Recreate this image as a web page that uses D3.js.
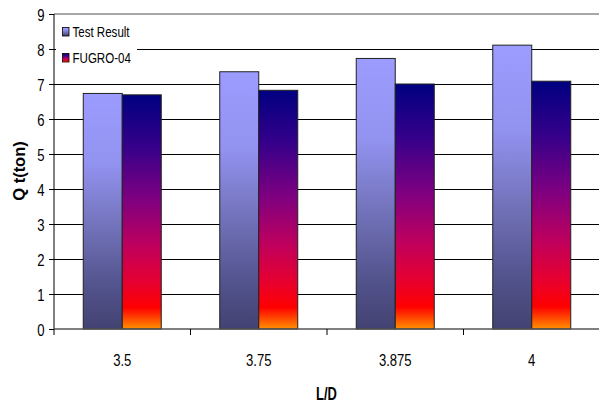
<!DOCTYPE html>
<html><head><meta charset="utf-8">
<script src="https://cdn.jsdelivr.net/npm/d3@7"></script>
<style>
html,body{margin:0;padding:0;background:#fff;}
svg{display:block;}
text{font-family:"Liberation Sans",Arial,sans-serif;fill:#000;}
</style></head>
<body>
<svg id="chart" width="599" height="403"></svg>
<script>
const categories = ["3.5", "3.75", "3.875", "4"];
const seriesNames = ["Test Result", "FUGRO-04"];
const testResult = [6.73, 7.35, 7.73, 8.11];
const fugro04 = [6.69, 6.82, 7.00, 7.08];
const yTicks = [0, 1, 2, 3, 4, 5, 6, 7, 8, 9];

(function () {
const svg = d3.select("#chart");
const pL = 54, pR = 600, pT = 14, pB = 329;
const sx = 0.77;

const x = d3.scaleBand().domain(categories).range([pL, pR]).paddingInner(0).paddingOuter(0);
const x1 = d3.scaleBand().domain(seriesNames).range([0, x.bandwidth()]).paddingInner(0).paddingOuter(0.75);
const y = d3.scaleLinear().domain([0, 9]).range([pB, pT]);

const defs = svg.append("defs");
function grad(id, stops) {
  const g = defs.append("linearGradient").attr("id", id).attr("x1", 0).attr("y1", 0).attr("x2", 0).attr("y2", 1);
  stops.forEach(s => g.append("stop").attr("offset", s[0]).attr("stop-color", s[1]));
}
grad("gTest", [[0, "#9c9cff"], [0.3, "#9292f0"], [0.55, "#7474bd"], [0.8, "#555590"], [1, "#424272"]]);
grad("gFugro", [[0, "#000080"], [0.22, "#35008a"], [0.45, "#800080"], [0.65, "#c0005c"], [0.8, "#e60030"], [0.91, "#ff0000"], [1, "#ff9000"]]);
const fills = {"Test Result": "url(#gTest)", "FUGRO-04": "url(#gFugro)"};

// gridlines
svg.append("g").selectAll("line").data(yTicks.filter(t => t > 0 && t < 9)).join("line")
  .attr("x1", pL).attr("x2", pR).attr("y1", d => y(d)).attr("y2", d => y(d))
  .attr("stroke", "#000").attr("stroke-width", 1).attr("shape-rendering", "crispEdges");
// top border
svg.append("line").attr("x1", pL).attr("x2", pR).attr("y1", y(9)).attr("y2", y(9))
  .attr("stroke", "#8a8a8a").attr("stroke-width", 1.5);

// bars
const groups = svg.append("g").selectAll("g").data(categories).join("g")
  .attr("transform", d => `translate(${x(d)},0)`);
groups.selectAll("rect").data((d, i) => [
  {s: "Test Result", v: testResult[i]},
  {s: "FUGRO-04", v: fugro04[i]}
]).join("rect")
  .attr("x", d => x1(d.s)).attr("width", x1.bandwidth())
  .attr("y", d => y(d.v)).attr("height", d => y(0) - y(d.v))
  .attr("fill", d => fills[d.s]).attr("stroke", "#222").attr("stroke-width", 1);

// legend
const lg = svg.append("g");
lg.append("rect").attr("x", 56).attr("y", 20).attr("width", 81).attr("height", 50).attr("fill", "#fff");
seriesNames.forEach((s, i) => {
  const yy = 27.5 + i * 26;
  lg.append("rect").attr("x", 62.5).attr("y", yy).attr("width", 6.5).attr("height", 8.5)
    .attr("fill", fills[s]).attr("stroke", "#000").attr("stroke-width", 0.8);
  lg.append("text").attr("transform", `translate(72.5,${36.7 + i * 26}) scale(${sx},1)`)
    .attr("font-size", 15).text(s);
});

// y axis
const yAxis = svg.append("g").attr("transform", `translate(${pL},0)`)
  .call(d3.axisLeft(y).tickValues(yTicks).tickSize(5).tickFormat(d3.format("d")));
yAxis.select(".domain").attr("stroke", "#000").attr("d", `M0,${pT}V${pB}`);
yAxis.selectAll(".tick line").attr("stroke", "#000");
yAxis.selectAll(".tick text").remove();
yAxis.selectAll(".tick").append("text")
  .attr("transform", `translate(-9.5,0) scale(${sx},1)`)
  .attr("text-anchor", "end").attr("dy", "0.36em").attr("font-size", 17)
  .attr("fill", "#000").text(d => d);

// x axis
svg.append("line").attr("x1", pL).attr("x2", pR).attr("y1", pB).attr("y2", pB)
  .attr("stroke", "#555").attr("stroke-width", 1.5);
const bounds = categories.map(c => x(c)).concat([x(categories[categories.length - 1]) + x.bandwidth()]);
svg.append("g").selectAll("line").data(bounds).join("line")
  .attr("x1", d => d).attr("x2", d => d).attr("y1", pB).attr("y2", pB + 6)
  .attr("stroke", "#000");
svg.append("g").selectAll("text").data(categories).join("text")
  .attr("transform", d => `translate(${x(d) + x.bandwidth() / 2},365.5) scale(${sx},1)`)
  .attr("text-anchor", "middle").attr("font-size", 17).text(d => d);

// axis titles
svg.append("text").attr("transform", `translate(326.5,400) scale(0.72,1)`)
  .attr("text-anchor", "middle").attr("font-size", 18).attr("font-weight", "bold").text("L/D");
svg.append("text").attr("transform", `translate(25,171) rotate(-90)`)
  .attr("text-anchor", "middle").attr("font-size", 16.5).attr("font-weight", "bold").text("Q t(ton)");
})();
</script>
</body></html>
